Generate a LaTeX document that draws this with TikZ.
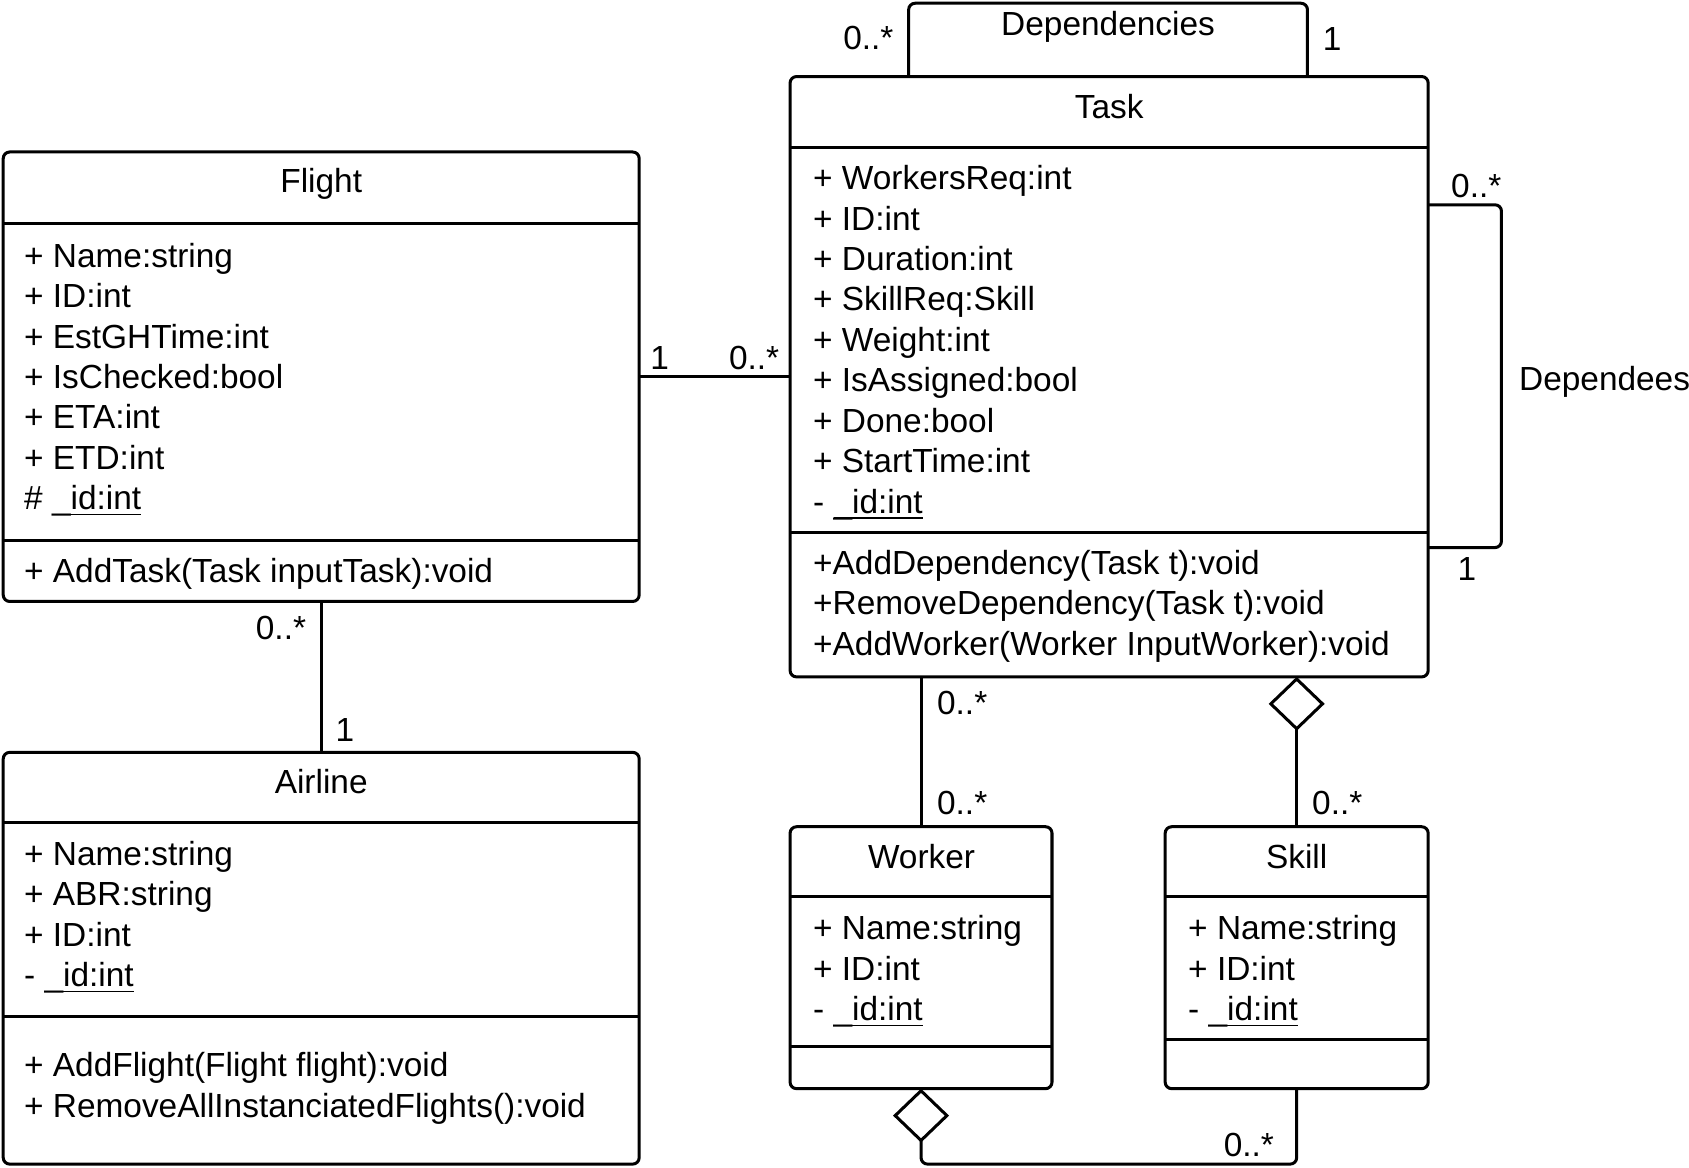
\documentclass[tikz,border=0pt]{standalone}
\usepackage{fontspec}
\setmainfont{Liberation Sans}
\usetikzlibrary{arrows.meta}
\newcommand\uidline[1]{\setbox0\hbox{#1}\rlap{\rule[-2.6pt]{\wd0}{0.8pt}}\box0}

\begin{document}
\begin{tikzpicture}[x=0.5pt,y=-0.5pt,line width=1.4pt,
  classbox/.style={draw,rounded corners=3pt,inner sep=0pt,outer sep=0pt,anchor=north west},
  txt/.style={inner sep=0pt,anchor=base west,font=\fontsize{15.5}{18}\selectfont},
  ttl/.style={inner sep=0pt,anchor=base,font=\fontsize{15.5}{18}\selectfont},
  agg/.style={-{Diamond[open,length=25pt,width=26pt]}}]
\useasboundingbox (0,0) rectangle (1567,1083);

% class boxes, edit here for sizes
\node[classbox,minimum width=295pt,minimum height=208.5pt] (flight) at (3,141) {};
\node[classbox,minimum width=295pt,minimum height=191pt] (airline) at (3,698) {};
\node[classbox,minimum width=296pt,minimum height=278.5pt] (task) at (733,71) {};
\node[classbox,minimum width=121.5pt,minimum height=121.5pt] (worker) at (733,767) {};
\node[classbox,minimum width=122pt,minimum height=121.5pt] (skill) at (1081,767) {};

% compartment lines
\foreach \n/\y in {flight/207,flight/501,airline/763,airline/943,task/137,task/494,
                   worker/832,worker/971,skill/832,skill/964}
\draw (\n.west |- 0,\y) -- (\n.east |- 0,\y);

% names
\node[ttl] (flightname) at (298,179) {Flight};
\node[ttl] (airlinename) at (298,736) {Airline};
\node[ttl] (taskname) at (1029,110) {Task};
\node[ttl] (workername) at (855,806) {Worker};
\node[ttl] (skillname) at (1203,806) {Skill};

% attributes and operations
\foreach \t [count=\i from 0] in {+ Name:string,+ ID:int,+ EstGHTime:int,+ IsChecked:bool,
                                  + ETA:int,+ ETD:int,\# \uidline{\_id:int}}
\node[txt] (fl\i) at (21,248+37.5*\i) {\t};
\node[txt] (flop) at (21,540) {+ AddTask(Task inputTask):void};

\foreach \t [count=\i from 0] in {+ Name:string,+ ABR:string,+ ID:int,- \uidline{\_id:int}}
\node[txt] (al\i) at (21,803+37.5*\i) {\t};
\foreach \t [count=\i from 0] in {+ AddFlight(Flight flight):void,+ RemoveAllInstanciatedFlights():void}
\node[txt] (alop\i) at (21,999+37.5*\i) {\t};

\foreach \t [count=\i from 0] in {+ WorkersReq:int,+ ID:int,+ Duration:int,+ SkillReq:Skill,
                                  + Weight:int,+ IsAssigned:bool,+ Done:bool,+ StartTime:int,
                                  - \uidline{\_id:int}}
\node[txt] (ta\i) at (753,176+37.5*\i) {\t};
\foreach \t [count=\i from 0] in {+AddDependency(Task t):void,+RemoveDependency(Task t):void,
                                  +AddWorker(Worker InputWorker):void}
\node[txt] (taop\i) at (753,533+37.5*\i) {\t};

\foreach \t [count=\i from 0] in {+ Name:string,+ ID:int,- \uidline{\_id:int}}
{\node[txt] (wo\i) at (753,872+37.5*\i) {\t};
 \node[txt] (sk\i) at (1101,872+37.5*\i) {\t};}

% associations
\draw (flight.east |- 0,349) -- (task.west |- 0,349);
\draw (flight.south) -- (airline.north);
\draw (worker.north) -- (task.south -| worker.north);
\draw[agg] (skill.north) -- (task.south -| skill.north);
\draw[rounded corners=3pt,{Diamond[open,length=25pt,width=26pt]}-] (worker.south) -- ++(0,70) -| (skill.south);
\draw[rounded corners=3pt] (843,0 |- task.north) |- (1213,3) -- (1213,0 |- task.north);
\draw[rounded corners=3pt] (task.east |- 0,190) -| (1393,508) -- (task.east |- 0,508);

% multiplicities
\node[txt] (depm) at (781,46) {0..*};
\node[txt] (depo) at (1226,47) {1};
\node[ttl] (deplabel) at (1028,33) {Dependencies};
\node[txt] (ftone) at (602,343) {1};
\node[txt] (ftmany) at (675,343) {0..*};
\node[txt] (famany) at (236,593) {0..*};
\node[txt] (faone) at (310,688) {1};
\node[txt] (ddmany) at (1345,183) {0..*};
\node[txt] (ddone) at (1351,539) {1};
\node[txt] (ddlabel) at (1408,362) {Dependees};
\node[txt] (twmanya) at (868,663) {0..*};
\node[txt] (twmanyb) at (868,756) {0..*};
\node[txt] (tsmany) at (1216,756) {0..*};
\node[txt] (wsmany) at (1134,1073) {0..*};
\end{tikzpicture}
\end{document}
